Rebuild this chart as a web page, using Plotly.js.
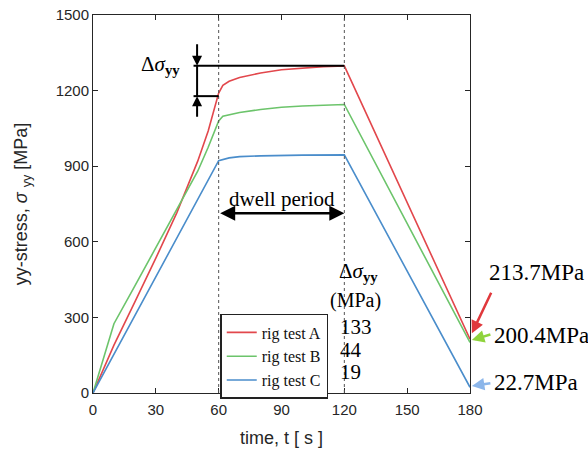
<!DOCTYPE html>
<html>
<head>
<meta charset="utf-8">
<script src="https://cdn.plot.ly/plotly-3.0.1.min.js"></script>
<style>html,body{margin:0;padding:0;background:#fff;}#chart{width:588px;height:450px;}</style>
</head>
<body>
<div id="chart"></div>
<script>
// ---- data ----
const seriesNames = ['rig test A', 'rig test B', 'rig test C'];
const tA = [0, 10, 20, 30, 40, 45, 50, 55, 58, 60, 62, 65, 70, 75, 80, 90, 100, 110, 120, 180];
const sA = [0, 190, 362, 535, 715, 815, 920, 1040, 1135, 1190, 1221, 1237, 1252, 1262, 1270, 1283, 1290, 1295, 1298, 213.7];
const tB = [0, 10, 20, 30, 40, 45, 50, 55, 58, 60, 62, 70, 80, 90, 100, 110, 120, 180];
const sB = [0, 275, 425, 575, 725, 805, 880, 975, 1040, 1080, 1098, 1113, 1125, 1134, 1139, 1142, 1145, 200.4];
const tC = [0, 60, 65, 70, 80, 90, 100, 120, 180];
const sC = [0, 922, 933, 938, 941, 943, 944, 945, 22.7];
const deltaValues = ['133', '44', '19'];
const endLabels = ['213.7MPa', '200.4MPa', '22.7MPa'];
const xTicks = [0, 30, 60, 90, 120, 150, 180];
const yTicks = [0, 300, 600, 900, 1200, 1500];
const xTitle = 'time, t [ s ]';
const yTitle = 'yy-stress, <i>σ</i> <sub>yy</sub> [MPa]';

const colors = ['#e2474c', '#6cc46b', '#4a8dcb'];
const arrowColors = ['#e0383c', '#8fd33c', '#8cb6ea'];
const serif = 'Liberation Serif, DejaVu Serif, serif';
const sans = 'Liberation Sans, Arial, sans-serif';

const traces = [[tA, sA], [tB, sB], [tC, sC]].map((d, i) => ({
  x: d[0], y: d[1], type: 'scatter', mode: 'lines', name: seriesNames[i],
  line: {color: colors[i], width: 1.6}, cliponaxis: false
}));

const shapes = [
  {type: 'line', xref: 'x', yref: 'y', x0: 60, x1: 60, y0: 0, y1: 1500, line: {color: '#555', width: 1, dash: 'dot'}},
  {type: 'line', xref: 'x', yref: 'y', x0: 120, x1: 120, y0: 0, y1: 1500, line: {color: '#555', width: 1, dash: 'dot'}},
  {type: 'line', xref: 'x', yref: 'y', x0: 48, x1: 120, y0: 1299, y1: 1299, line: {color: '#000', width: 2}},
  {type: 'line', xref: 'x', yref: 'y', x0: 48, x1: 60, y0: 1178, y1: 1178, line: {color: '#000', width: 2}},
  {type: 'line', xref: 'x', yref: 'y', x0: 49.7, x1: 49.7, y0: 1178, y1: 1299, line: {color: '#000', width: 2}}
];

const annotations = [
  {xref: 'paper', yref: 'paper', x: 0.5, y: -0.119, xanchor: 'center', yanchor: 'middle', text: xTitle, showarrow: false, font: {family: sans, size: 18, color: '#262626'}},
  {xref: 'x', yref: 'y', x: 49.7, y: 1299, ax: 0, ay: -23, text: '', showarrow: true, arrowhead: 2, arrowsize: 1, arrowwidth: 2, arrowcolor: '#000'},
  {xref: 'x', yref: 'y', x: 49.7, y: 1178, ax: 0, ay: 22, text: '', showarrow: true, arrowhead: 2, arrowsize: 1, arrowwidth: 2, arrowcolor: '#000'},
  {xref: 'x', yref: 'y', x: 42.7, y: 1300, xanchor: 'right', yanchor: 'middle', text: 'Δ<i>σ</i><sub><b>yy</b></sub>', showarrow: false, font: {family: serif, size: 21, color: '#000'}},
  {xref: 'x', yref: 'y', x: 120, y: 713, axref: 'x', ayref: 'y', ax: 60, ay: 713, text: '', showarrow: true, arrowside: 'end+start', arrowhead: 2, arrowsize: 1.2, arrowwidth: 2.5, arrowcolor: '#000'},
  {xref: 'x', yref: 'y', x: 90, y: 768, text: 'dwell period', showarrow: false, font: {family: serif, size: 21, color: '#000'}},
  {xref: 'x', yref: 'y', x: 116.6, y: 480, xanchor: 'left', text: 'Δ<i>σ</i><sub><b>yy</b></sub>', showarrow: false, font: {family: serif, size: 21, color: '#000'}},
  {xref: 'x', yref: 'y', x: 112.2, y: 369, xanchor: 'left', text: '(MPa)', showarrow: false, font: {family: serif, size: 20, color: '#000'}}
];
const deltaY = [263, 172, 84];
deltaValues.forEach((v, i) => annotations.push({xref: 'x', yref: 'y', x: 117.2, y: deltaY[i], xanchor: 'left', yanchor: 'middle', text: v, showarrow: false, font: {family: serif, size: 21, color: '#000'}}));
const labelX = [1.045, 1.058, 1.058];
const labelY = [480, 230, 40];
endLabels.forEach((v, i) => annotations.push({xref: 'paper', yref: 'y', x: labelX[i], y: labelY[i], xanchor: 'left', text: v, showarrow: false, font: {family: serif, size: 23, color: '#000'}}));
const tipY = [237, 210, 28];
const tailOff = [[20, -42], [20, -6], [20, -3]];
tipY.forEach((y, i) => annotations.push({xref: 'paper', yref: 'y', x: 1.005, y: y, ax: tailOff[i][0], ay: tailOff[i][1], text: '', showarrow: true, arrowhead: 2, arrowsize: 1, arrowwidth: 2.5, arrowcolor: arrowColors[i]}));

const layout = {
  width: 588, height: 450,
  margin: {l: 93, r: 118, t: 15, b: 57},
  paper_bgcolor: '#fff', plot_bgcolor: '#fff',
  showlegend: true,
  legend: {x: 0.624, xanchor: 'right', y: 0.209, yanchor: 'top', bgcolor: '#fff', bordercolor: '#222', borderwidth: 1.5,
           font: {family: serif, size: 16, color: '#111'}, itemwidth: 30, tracegroupgap: 0},
  xaxis: {range: [0, 180], tickvals: xTicks, ticks: 'inside', ticklen: 5, tickcolor: '#262626', mirror: 'ticks',
          showline: true, linecolor: '#262626', linewidth: 1, showgrid: false, zeroline: false,
          tickfont: {family: sans, size: 15, color: '#262626'}, ticklabelstandoff: 3},
  yaxis: {range: [0, 1500], tickvals: yTicks, ticks: 'inside', ticklen: 5, tickcolor: '#262626', mirror: 'ticks',
          showline: true, linecolor: '#262626', linewidth: 1, showgrid: false, zeroline: false,
          tickfont: {family: sans, size: 15, color: '#262626'},
          title: {text: yTitle, font: {family: sans, size: 18, color: '#262626'}, standoff: 23}},
  shapes: shapes,
  annotations: annotations
};

Plotly.newPlot('chart', traces, layout, {displayModeBar: false, staticPlot: true});
</script>
</body>
</html>
